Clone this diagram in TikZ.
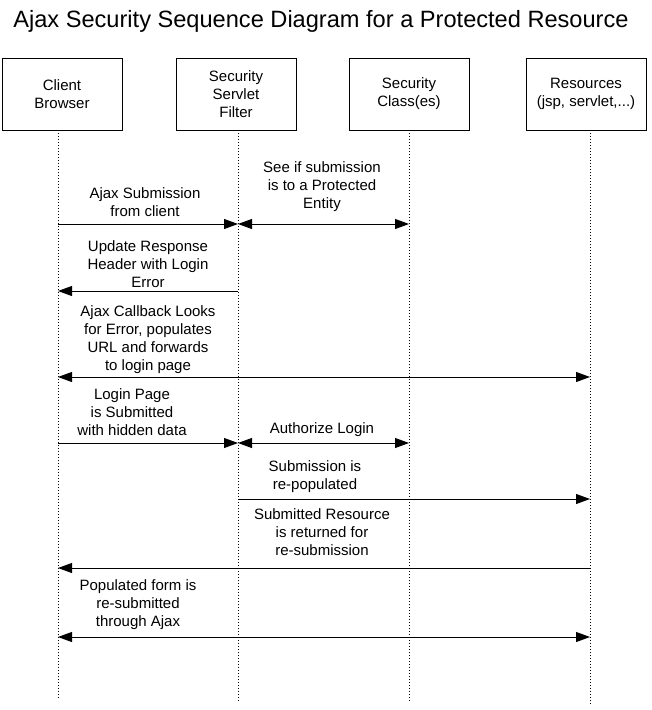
\documentclass[tikz,border=0pt]{standalone}
\usepackage{fontspec}
\setmainfont{Liberation Sans}
\usetikzlibrary{arrows.meta,positioning}
\newcommand{\bodyfont}{\fontsize{15}{18}\selectfont}
\tikzset{
  actor/.style={draw, line width=0.8pt, minimum width=120pt, minimum height=72pt,
                inner sep=2pt, align=center, font=\bodyfont},
  lifeline/.style={line width=0.8pt, dash pattern=on 1pt off 2pt},
  msg/.style={-{Triangle[length=14pt,width=10pt]}, line width=0.9pt},
  dmsg/.style={{Triangle[length=14pt,width=10pt]}-{Triangle[length=14pt,width=10pt]}, line width=0.9pt},
  note/.style={anchor=south, inner sep=0pt, align=center, font=\bodyfont,
               execute at end node=\strut}}

\begin{document}
\begin{tikzpicture}[x=1pt,y=-1pt]
    \useasboundingbox (0,0) rectangle (652,710);
    \node[anchor=base, font=\fontsize{23.6}{28}\selectfont] (title) at (321,27)
      {Ajax Security Sequence Diagram for a Protected Resource};
    \node[actor] (cb) at (62,94) {Client\\Browser};
    \node[actor] (ssf) at (236,94) {Security\\Servlet\\Filter};
    \node[actor] (sc) at (409,94) {Security\\Class(es)};
    \node[actor] (res) at (586,94) {Resources\\(jsp, servlet,...)};
    \coordinate (cbl) at (58,699);
    \coordinate (ssfl) at (238,703);
    \coordinate (scl) at (409,703);
    \coordinate (resl) at (590,706);
    \draw[lifeline] (cb.south -| cbl) -- (cbl);
    \draw[lifeline] (ssf.south -| ssfl) -- (ssfl);
    \draw[lifeline] (sc.south -| scl) -- (scl);
    \draw[lifeline] (res.south -| resl) -- (resl);
    \coordinate (m1) at (0,224);
    \coordinate (m2) at (0,291);
    \coordinate (m3) at (0,377);
    \coordinate (m4) at (0,443);
    \coordinate (m5) at (0,499);
    \coordinate (m6) at (0,568);
    \coordinate (m7) at (0,637);
    \draw[msg] (cbl |- m1) -- (ssfl |- m1);
    \draw[dmsg] (ssfl |- m1) -- (scl |- m1);
    \draw[msg] (ssfl |- m2) -- (cbl |- m2);
    \draw[dmsg] (cbl |- m3) -- (resl |- m3);
    \draw[msg] (cbl |- m4) -- (ssfl |- m4);
    \draw[dmsg] (ssfl |- m4) -- (scl |- m4);
    \draw[msg] (ssfl |- m5) -- (resl |- m5);
    \draw[msg] (resl |- m6) -- (cbl |- m6);
    \draw[dmsg] (cbl |- m7) -- (resl |- m7);
    \node[note] (n1) at (145,222.5) {Ajax Submission\\from client};
    \node[note] (n2) at (322,214.5) {See if submission\\is to a Protected\\Entity};
    \node[note] (n3) at (148,293.5) {Update Response\\Header with Login\\Error};
    \node[note] (n4) at (148,376.5) {Ajax Callback Looks\\for Error, populates\\URL and forwards\\to login page};
    \node[note] (n5) at (132,441.5) {Login Page\\is Submitted\\with hidden data};
    \node[note] (n6) at (322,439.5) {Authorize Login};
    \node[note] (n7) at (315,495.5) {Submission is\\re-populated};
    \node[note] (n8) at (322,561.5) {Submitted Resource\\is returned for\\re-submission};
    \node[note] (n9) at (138,632.5) {Populated form is\\re-submitted\\through Ajax};
\end{tikzpicture}
\end{document}
